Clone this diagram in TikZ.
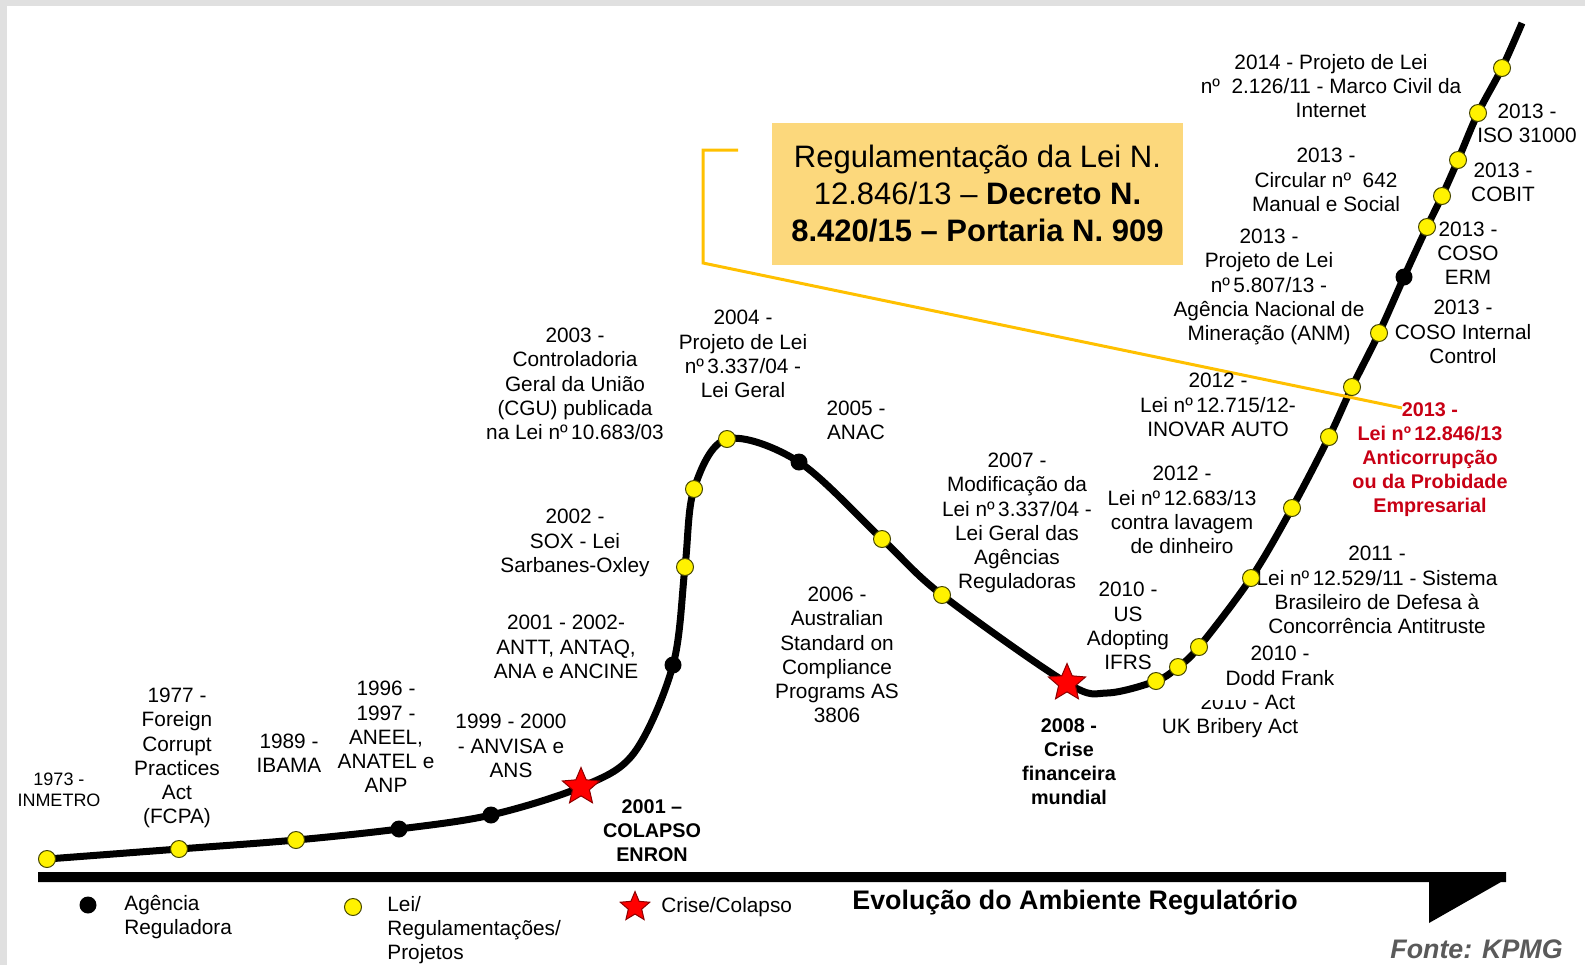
\documentclass[tikz,border=0pt]{standalone}
\usepackage{fontspec}
\setmainfont{Liberation Sans}
\usetikzlibrary{shapes.geometric}
\definecolor{dotrim}{RGB}{70,70,0}
\definecolor{boxfill}{RGB}{252,216,124}
\definecolor{callout}{RGB}{255,192,0}
\definecolor{lawred}{RGB}{200,0,20}
\definecolor{framegray}{RGB}{224,224,224}
\definecolor{srcgray}{RGB}{90,90,90}
\tikzset{
  lbl/.style={font=\fontsize{10.4}{12.1}\selectfont, align=center, inner sep=0pt},
  lblsm/.style={font=\fontsize{9}{10.5}\selectfont, align=center, inner sep=0pt},
  lblbold/.style={font=\bfseries\fontsize{9.9}{12}\selectfont, align=center, inner sep=0pt},
  lblred/.style={lblbold, text=lawred},
  ydot/.style={circle, fill=yellow, draw=dotrim, line width=0.5pt, minimum size=8.5pt, inner sep=0pt},
  bdot/.style={circle, fill=black, minimum size=8.5pt, inner sep=0pt},
  crash/.style={star, star points=5, star point ratio=2.2, fill=red, draw=black!45!red,
                line width=0.5pt, minimum size=19.5pt, inner sep=0pt},
  trend/.style={line width=3.5pt},
  calloutline/.style={draw=callout, line width=1.5pt},
}
\begin{document}
\begin{tikzpicture}[x=0.5pt,y=-0.5pt]
\useasboundingbox (0,0) rectangle (1585,965);
% frame strips
\fill[framegray] (0,0) rectangle (1585,6);
\fill[framegray] (0,0) rectangle (7,965);

% time axis with arrow foot
\fill (38,872) -- (1506,872) -- (1506,882) -- (1501,882) -- (1429,923) -- (1429,882) -- (38,882) -- cycle;

% evolution curve
\draw[trend] plot[smooth, tension=0.55] coordinates {
  (47,859) (179,849) (296,840) (399,829) (491,815) (581,787)
  (634,753) (673,665)
  (685,567) (694,489) (727,439) (799,462) (882,539) (942,595) (1067,683)
  (1107,693) (1156,681) (1178,667) (1199,647) (1251,578) (1292,508)
  (1329,437) (1352,387) (1379,333) (1404,277) (1427,227) (1442,196)
  (1458,160) (1478,113) (1502,68) (1522,23)};

% highlighted box and its callout
\node[fill=boxfill, minimum width=205.5pt, minimum height=71pt, inner sep=0pt,
      align=center, font=\fontsize{15.5}{18.5}\selectfont] (caixa) at (977.5,194)
  {Regulamentação da Lei N.\\12.846/13 – \textbf{Decreto N.}\\\textbf{8.420/15 – Portaria N. 909}};
\coordinate (k1) at (738,150);
\coordinate (k2) at (703,150);
\coordinate (k3) at (703,263);
\coordinate (k4) at (1402,408);
\draw[calloutline] (k1) -- (k2) -- (k3) -- (k4);

% event labels
\node[lblsm] (t1973) at (59,790) {1973 -\\INMETRO};
\node[lbl] (t1977) at (177,758) {1977 -\\Foreign\\Corrupt\\Practices\\Act\\(FCPA)};
\node[lbl] (t1989) at (289,753) {1989 -\\IBAMA};
\node[lbl] (t1996) at (386,737) {1996 -\\1997 -\\ANEEL,\\ANATEL e\\ANP};
\node[lbl] (t1999) at (511,746) {1999 - 2000\\- ANVISA e\\ANS};
\node[lblbold] (t2001e) at (652,831) {2001 –\\COLAPSO\\ENRON};
\node[lbl] (t2001) at (566,647) {2001 - 2002-\\ANTT, ANTAQ,\\ANA e ANCINE};
\node[lbl] (t2002) at (575,543) {2002 -\\SOX - Lei\\Sarbanes-Oxley};
\node[lbl] (t2003) at (575,384) {2003 -\\Controladoria\\Geral da União\\(CGU) publicada\\na Lei nº\,10.683/03};
\node[lbl] (t2004) at (743,354) {2004 -\\Projeto de Lei\\nº\,3.337/04 -\\Lei Geral};
\node[lbl] (t2005) at (856,420) {2005 -\\ANAC};
\node[lbl] (t2006) at (837,655) {2006 -\\Australian\\Standard on\\Compliance\\Programs AS\\3806};
\node[lbl] (t2007) at (1017,523) {2007 -\\Modificação da\\Lei nº\,3.337/04 -\\Lei Geral das\\Agências\\Reguladoras};
\node[lblbold] (t2008) at (1069,762) {2008 -\\Crise\\financeira\\mundial};
\node[lbl] (t2010us) at (1128,626) {2010 -\\US\\Adopting\\IFRS};
\node[lbl] (t2012l) at (1182,510) {2012 -\\Lei nº\,12.683/13\\contra lavagem\\de dinheiro};
\node[lbl] (t2010uk) at (1230,716) {2010 -\\UK Bribery Act};
\fill[white] (1198,691) rectangle (1262,700);
\node[lbl] (t2010df) at (1280,678) {2010 -\\Dodd Frank\\Act};
\node[lbl] (t2011) at (1377,590) {2011 -\\Lei nº\,12.529/11 - Sistema\\Brasileiro de Defesa à\\Concorrência Antitruste};
\node[lbl] (t2012i) at (1218,405) {2012 -\\Lei nº\,12.715/12-\\INOVAR AUTO};
\node[lblred] (t2013r) at (1430,460) {2013 -\\Lei nº\,12.846/13\\Anticorrupção\\ou da Probidade\\Empresarial};
\node[lbl] (t2013ic) at (1463,332) {2013 -\\COSO Internal\\Control};
\node[lbl] (t2013anm) at (1269,287) {2013 -\\Projeto de Lei\\nº\,5.807/13 -\\Agência Nacional de\\Mineração (ANM)};
\node[lbl] (t2013erm) at (1468,253) {2013 -\\COSO\\ERM};
\node[lbl] (t2013cir) at (1326,180) {2013 -\\Circular nº~ 642\\Manual e Social};
\node[lbl] (t2013cob) at (1503,182) {2013 -\\COBIT};
\node[lbl] (t2013iso) at (1527,123) {2013 -\\ISO 31000};
\node[lbl] (t2014) at (1331,86) {2014 - Projeto de Lei\\nº~ 2.126/11 - Marco Civil da\\Internet};

% markers on the curve
\node[ydot] (p1973) at (47,859) {};
\node[ydot] (p1977) at (179,849) {};
\node[ydot] (p1989) at (296,840) {};
\node[bdot] (p1996) at (399,829) {};
\node[bdot] (p1999) at (491,815) {};
\node[crash] (s2001) at (581,787) {};
\node[bdot] (p2001) at (673,665) {};
\node[ydot] (p2002) at (685,567) {};
\node[ydot] (p2003) at (694,489) {};
\node[ydot] (p2004) at (727,439) {};
\node[bdot] (p2005) at (799,462) {};
\node[ydot] (p2006) at (882,539) {};
\node[ydot] (p2007) at (942,595) {};
\node[crash] (s2008) at (1067,683) {};
\node[ydot] (p2010a) at (1156,681) {};
\node[ydot] (p2010b) at (1178,667) {};
\node[ydot] (p2010c) at (1199,647) {};
\node[ydot] (p2011) at (1251,578) {};
\node[ydot] (p2012a) at (1292,508) {};
\node[ydot] (p2012b) at (1329,437) {};
\node[ydot] (p2013a) at (1352,387) {};
\node[ydot] (p2013b) at (1379,333) {};
\node[bdot] (p2013c) at (1404,277) {};
\node[ydot] (p2013d) at (1427,227) {};
\node[ydot] (p2013e) at (1442,196) {};
\node[ydot] (p2013f) at (1458,160) {};
\node[ydot] (p2013g) at (1478,113) {};
\node[ydot] (p2014) at (1502,68) {};

% legend
\node[bdot] (legA) at (88,905) {};
\node[lbl, align=left, anchor=west] (legAt) at (124,917) {Agência\\Reguladora};
\node[ydot] (legL) at (353,907) {};
\node[lbl, align=left, anchor=west] (legLt) at (387,930) {Lei/\\Regulamentações/\\Projetos};
\node[crash, minimum size=15.5pt] (legC) at (635,907) {};
\node[lbl, anchor=west] (legCt) at (661,907) {Crise/Colapso};
\node[font=\bfseries\fontsize{13.4}{16}\selectfont, anchor=west, inner sep=0pt] (titulo) at (852,902) {Evolução do Ambiente Regulatório};
\node[font=\bfseries\itshape\fontsize{13.4}{16}\selectfont, text=srcgray, anchor=base east, inner sep=0pt] (fonte) at (1563,958) {Fonte: KPMG};
\end{tikzpicture}
\end{document}
